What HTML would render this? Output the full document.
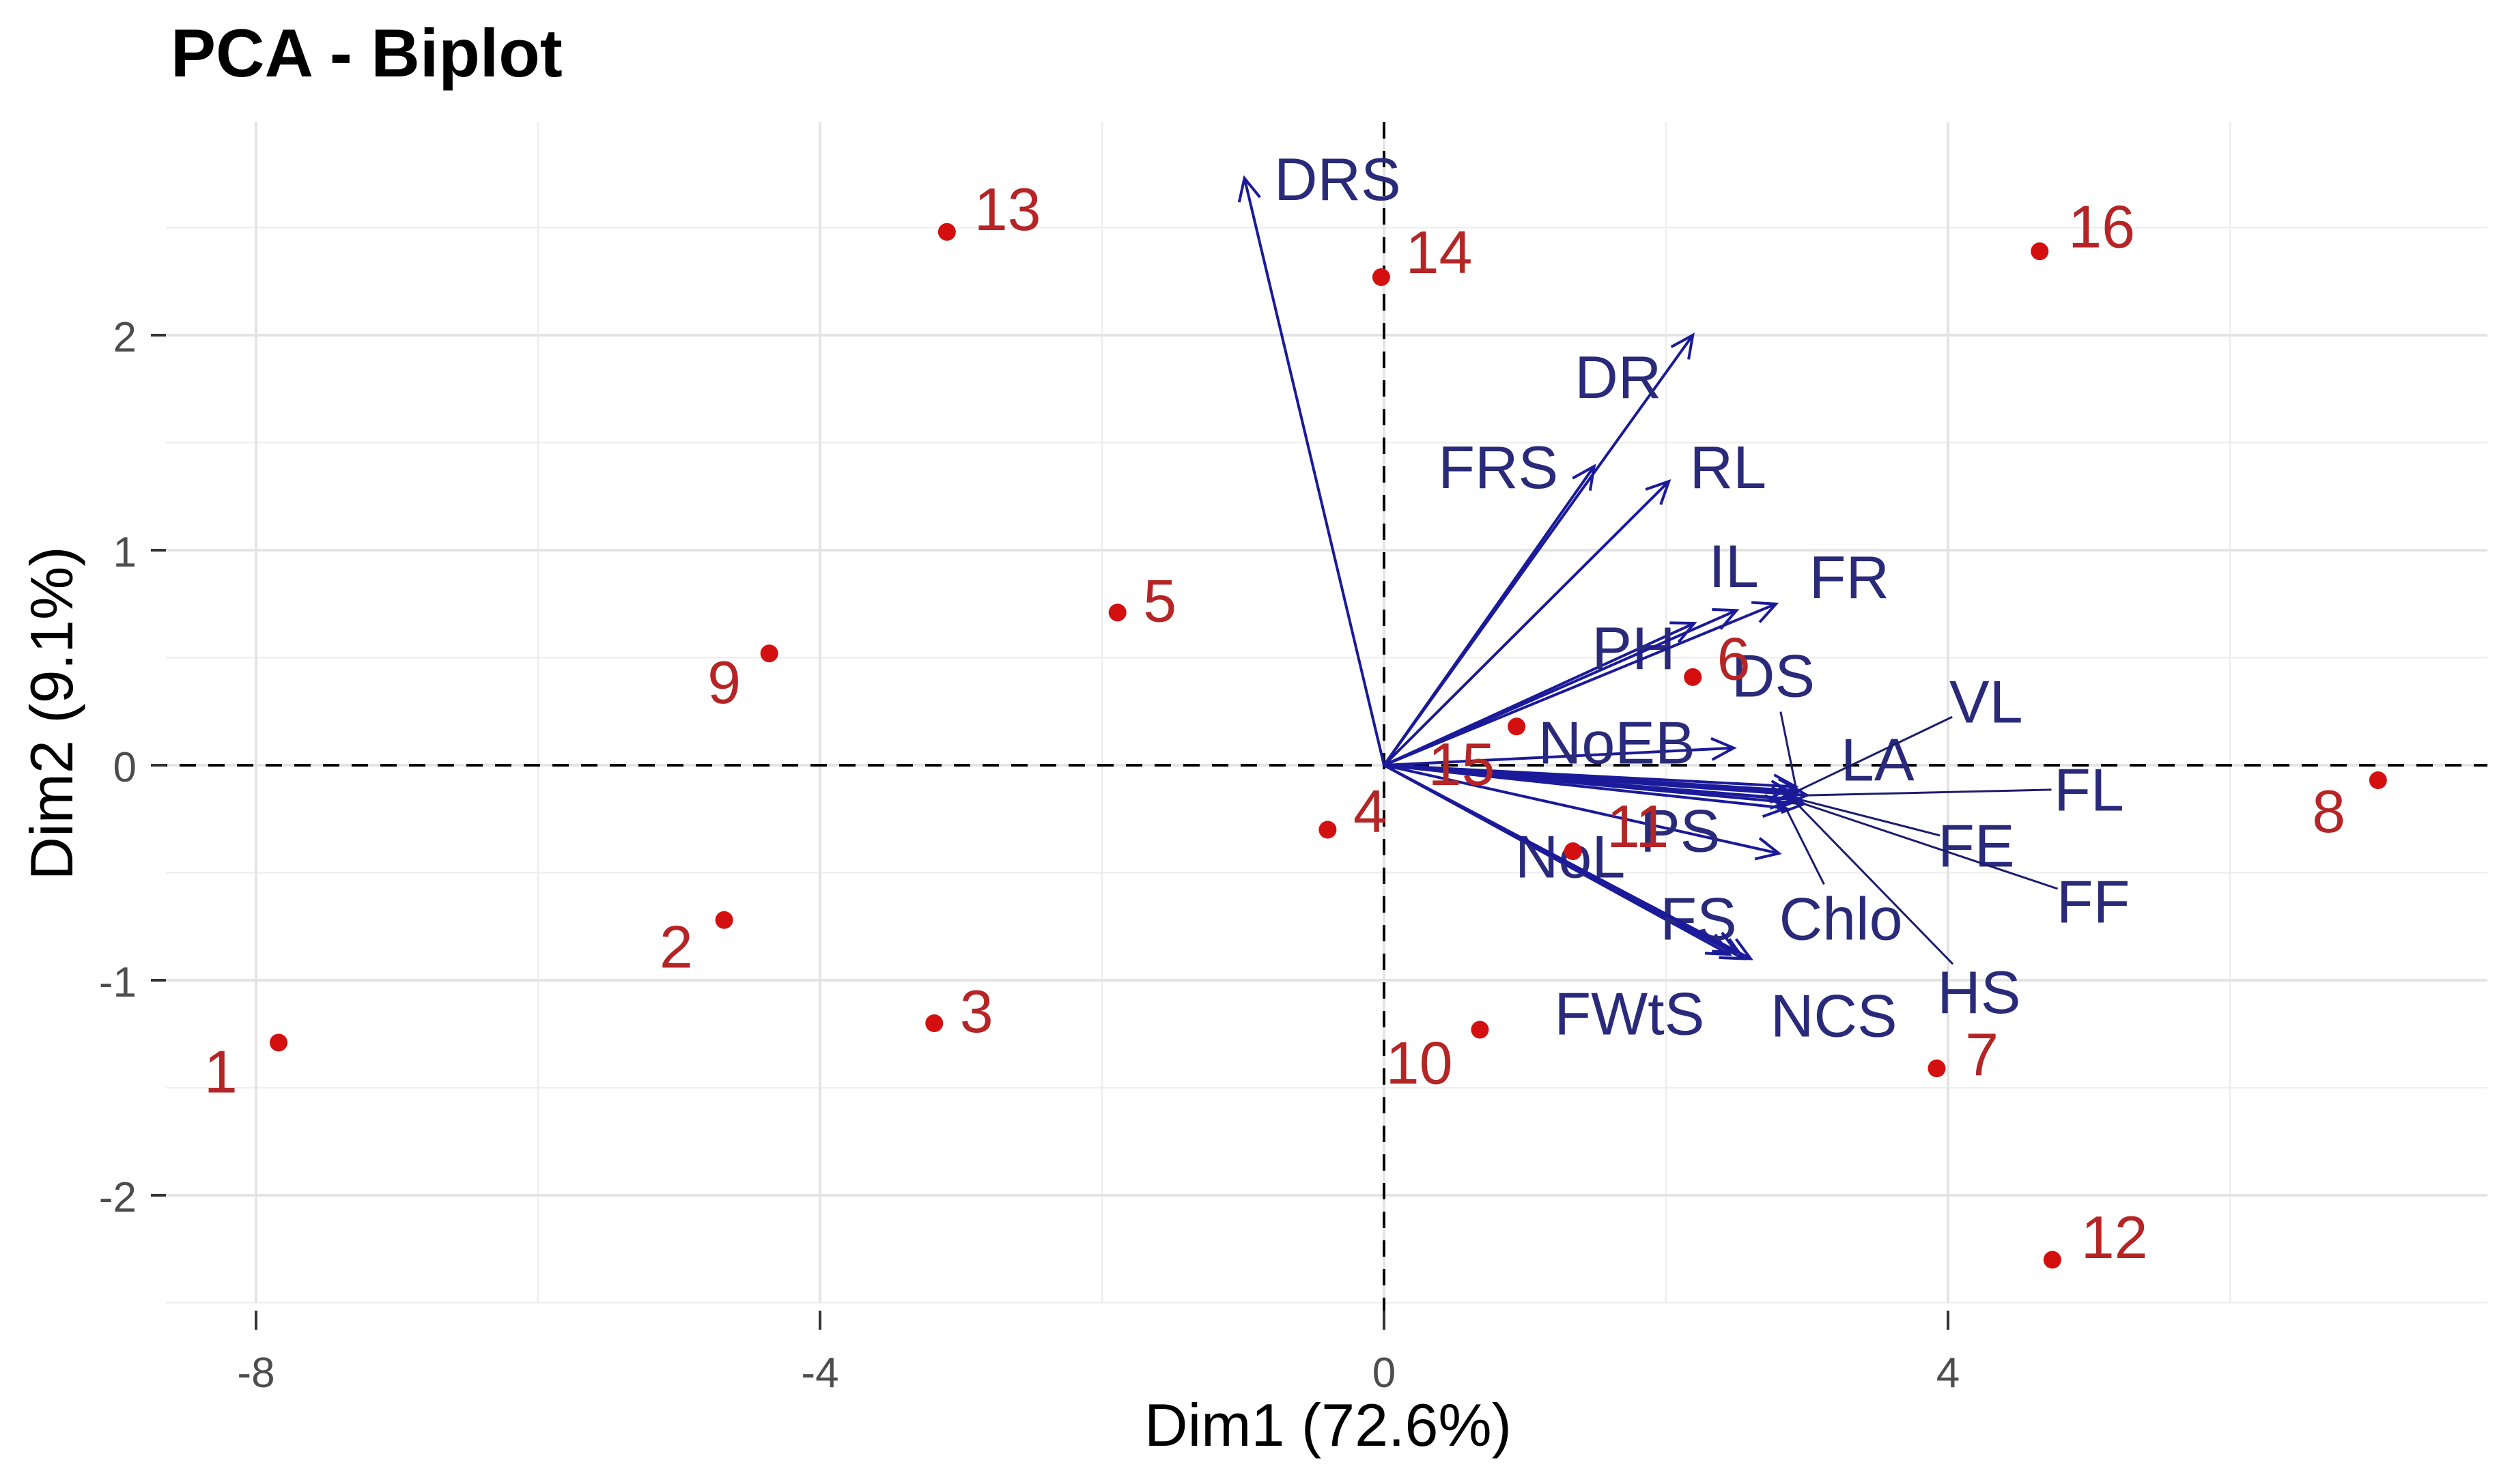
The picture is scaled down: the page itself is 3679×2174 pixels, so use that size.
<!DOCTYPE html>
<html><head><meta charset="utf-8"><style>
html,body{margin:0;padding:0;background:#fff;}
svg{display:block;font-family:"Liberation Sans",sans-serif;}
</style></head><body>
<svg id="chart" width="3679" height="2174" viewBox="0 0 3679 2174" xmlns="http://www.w3.org/2000/svg">
<rect x="0" y="0" width="3679" height="2174" fill="#fff"/>
<text x="250" y="112" font-size="99" font-weight="bold" fill="#000">PCA - Biplot</text>
<g id="grid"></g>
<g id="refs"></g>
<g id="arrows"></g>
<g id="points"></g>
<g id="axes"></g>
<text x="1945" y="2118" font-size="88" text-anchor="middle" fill="#000">Dim1 (72.6%)</text>
<text transform="translate(106,1045) rotate(-90)" font-size="88" text-anchor="middle" fill="#000">Dim2 (9.1%)</text>
</svg>
<script>
const pointIds = ["1","2","3","4","5","6","7","8","9","10","11","12","13","14","15","16"];
const pointX = [-7.84,-4.68,-3.19,-0.40,-1.89,2.19,3.92,7.05,-4.36,0.68,1.34,4.74,-3.10,-0.02,0.94,4.65];
const pointY = [-1.29,-0.72,-1.20,-0.30,0.71,0.41,-1.41,-0.07,0.52,-1.23,-0.40,-2.30,2.48,2.27,0.18,2.39];
const pointLabelX = [-8.25,-5.02,-2.89,-0.10,-1.59,2.48,4.24,6.70,-4.68,0.25,1.80,5.18,-2.67,0.39,0.55,5.09];
const pointLabelY = [-1.42,-0.84,-1.14,-0.21,0.77,0.50,-1.34,-0.21,0.39,-1.38,-0.28,-2.19,2.59,2.39,0.01,2.51];

const varNames = ["DRS","DR","FRS","RL","PH","IL","FR","DS","NoEB","LA","VL","FL","FE","FF","HS","Chlo","PS","NoL","FS","FWtS","NCS"];
const varX = [-0.99,2.19,1.49,2.02,2.2,2.5,2.78,2.92,2.48,2.95,2.9,3.0,2.95,2.98,2.9,2.85,2.8,2.45,2.55,2.5,2.6];
const varY = [2.73,2.00,1.39,1.32,0.66,0.72,0.75,-0.10,0.08,-0.12,-0.13,-0.14,-0.16,-0.18,-0.16,-0.20,-0.41,-0.88,-0.90,-0.87,-0.90];
const varLabelX = [-0.33,1.66,0.81,2.44,1.77,2.48,3.30,2.76,1.65,3.50,4.27,5.00,4.20,5.03,4.22,3.24,2.10,1.32,2.23,1.74,3.19];
const varLabelY = [2.73,1.81,1.39,1.39,0.55,0.93,0.88,0.42,0.11,0.03,0.30,-0.11,-0.37,-0.63,-1.05,-0.71,-0.30,-0.42,-0.71,-1.15,-1.16];
const connected = ["DS","VL","FL","FE","FF","HS","Chlo"];

const xTicks = [-8,-4,0,4];
const yTicks = [-2,-1,0,1,2];
const xMinor = [-6,-2,2,6];
const yMinor = [-2.5,-1.5,-0.5,0.5,1.5,2.5];

const P = {l:243,r:3643,t:179,b:1908};
const X0=2027, XS=206.5, Y0=1121, YS=315;
const sx = v => X0 + XS*v;
const sy = v => Y0 - YS*v;
const NS="http://www.w3.org/2000/svg";
function mk(tag, attrs, parent){const e=document.createElementNS(NS,tag);for(const k in attrs)e.setAttribute(k,attrs[k]);parent.appendChild(e);return e;}

const grid=document.getElementById('grid');
xMinor.forEach(v=>{const e=mk('line',{x1:sx(v),x2:sx(v),y1:P.t,y2:P.b,stroke:'#ececec','stroke-width':2},grid);

});
yMinor.forEach(v=>{const e=mk('line',{x1:P.l,x2:P.r,y1:sy(v),y2:sy(v),stroke:'#ececec','stroke-width':2},grid);

});
xTicks.forEach(v=>{const e=mk('line',{x1:sx(v),x2:sx(v),y1:P.t,y2:P.b,stroke:'#e4e4e4','stroke-width':4},grid);

});
yTicks.forEach(v=>{const e=mk('line',{x1:P.l,x2:P.r,y1:sy(v),y2:sy(v),stroke:'#e4e4e4','stroke-width':4},grid);

});

const axes=document.getElementById('axes');
xTicks.forEach(v=>{
const t=mk('line',{x1:sx(v),x2:sx(v),y1:P.b+12,y2:P.b+40,stroke:'#333','stroke-width':4},axes);


const l=mk('text',{x:sx(v),y:2032,'font-size':62,'text-anchor':'middle',fill:'#4d4d4d'},axes);
l.textContent=String(v);

});
yTicks.forEach(v=>{
const t=mk('line',{x1:P.l-22,x2:P.l,y1:sy(v),y2:sy(v),stroke:'#333','stroke-width':4},axes);


const l=mk('text',{x:200,y:sy(v)+24,'font-size':62,'text-anchor':'end',fill:'#4d4d4d'},axes);
l.textContent=String(v);

});

const refs=document.getElementById('refs');
const rv=mk('line',{x1:sx(0),x2:sx(0),y1:P.t,y2:P.b+40,stroke:'#000','stroke-width':4,'stroke-dasharray':'24 18'},refs);


const rh=mk('line',{x1:P.l-22,x2:P.r,y1:sy(0),y2:sy(0),stroke:'#000','stroke-width':4,'stroke-dasharray':'24 18'},refs);



const arrows=document.getElementById('arrows');
varNames.forEach((n,i)=>{
const g=mk('g',{},arrows);


const x1=sx(0),y1=sy(0),x2=sx(varX[i]),y2=sy(varY[i]);
mk('line',{x1:x1,y1:y1,x2:x2,y2:y2,stroke:'#1a1a9a','stroke-width':4},g);
const a=Math.atan2(y2-y1,x2-x1),h=36,s=0.45;
mk('polyline',{points:`${x2-h*Math.cos(a-s)},${y2-h*Math.sin(a-s)} ${x2},${y2} ${x2-h*Math.cos(a+s)},${y2-h*Math.sin(a+s)}`,fill:'none',stroke:'#1a1a9a','stroke-width':4},g);
const lx=sx(varLabelX[i]),ly=sy(varLabelY[i]);
const d=Math.hypot(lx-x2,ly-y2);
if(connected.includes(n)&&d>60){const k=(d-55)/d;
mk('line',{x1:x2,y1:y2,x2:x2+(lx-x2)*k,y2:y2+(ly-y2)*k,stroke:'#1c1c6e','stroke-width':3},g);}
const t=mk('text',{x:lx,y:ly+32,'font-size':88,'text-anchor':'middle',fill:'#2a2a7a'},g);
t.textContent=n;

});

const pts=document.getElementById('points');
pointIds.forEach((id,i)=>{
const c=mk('circle',{cx:sx(pointX[i]),cy:sy(pointY[i]),r:13,fill:'#d40f0f'},pts);


const t=mk('text',{x:sx(pointLabelX[i]),y:sy(pointLabelY[i])+32,'font-size':88,'text-anchor':'middle',fill:'#b52525'},pts);
t.textContent=id;

});
</script>
</body></html>
